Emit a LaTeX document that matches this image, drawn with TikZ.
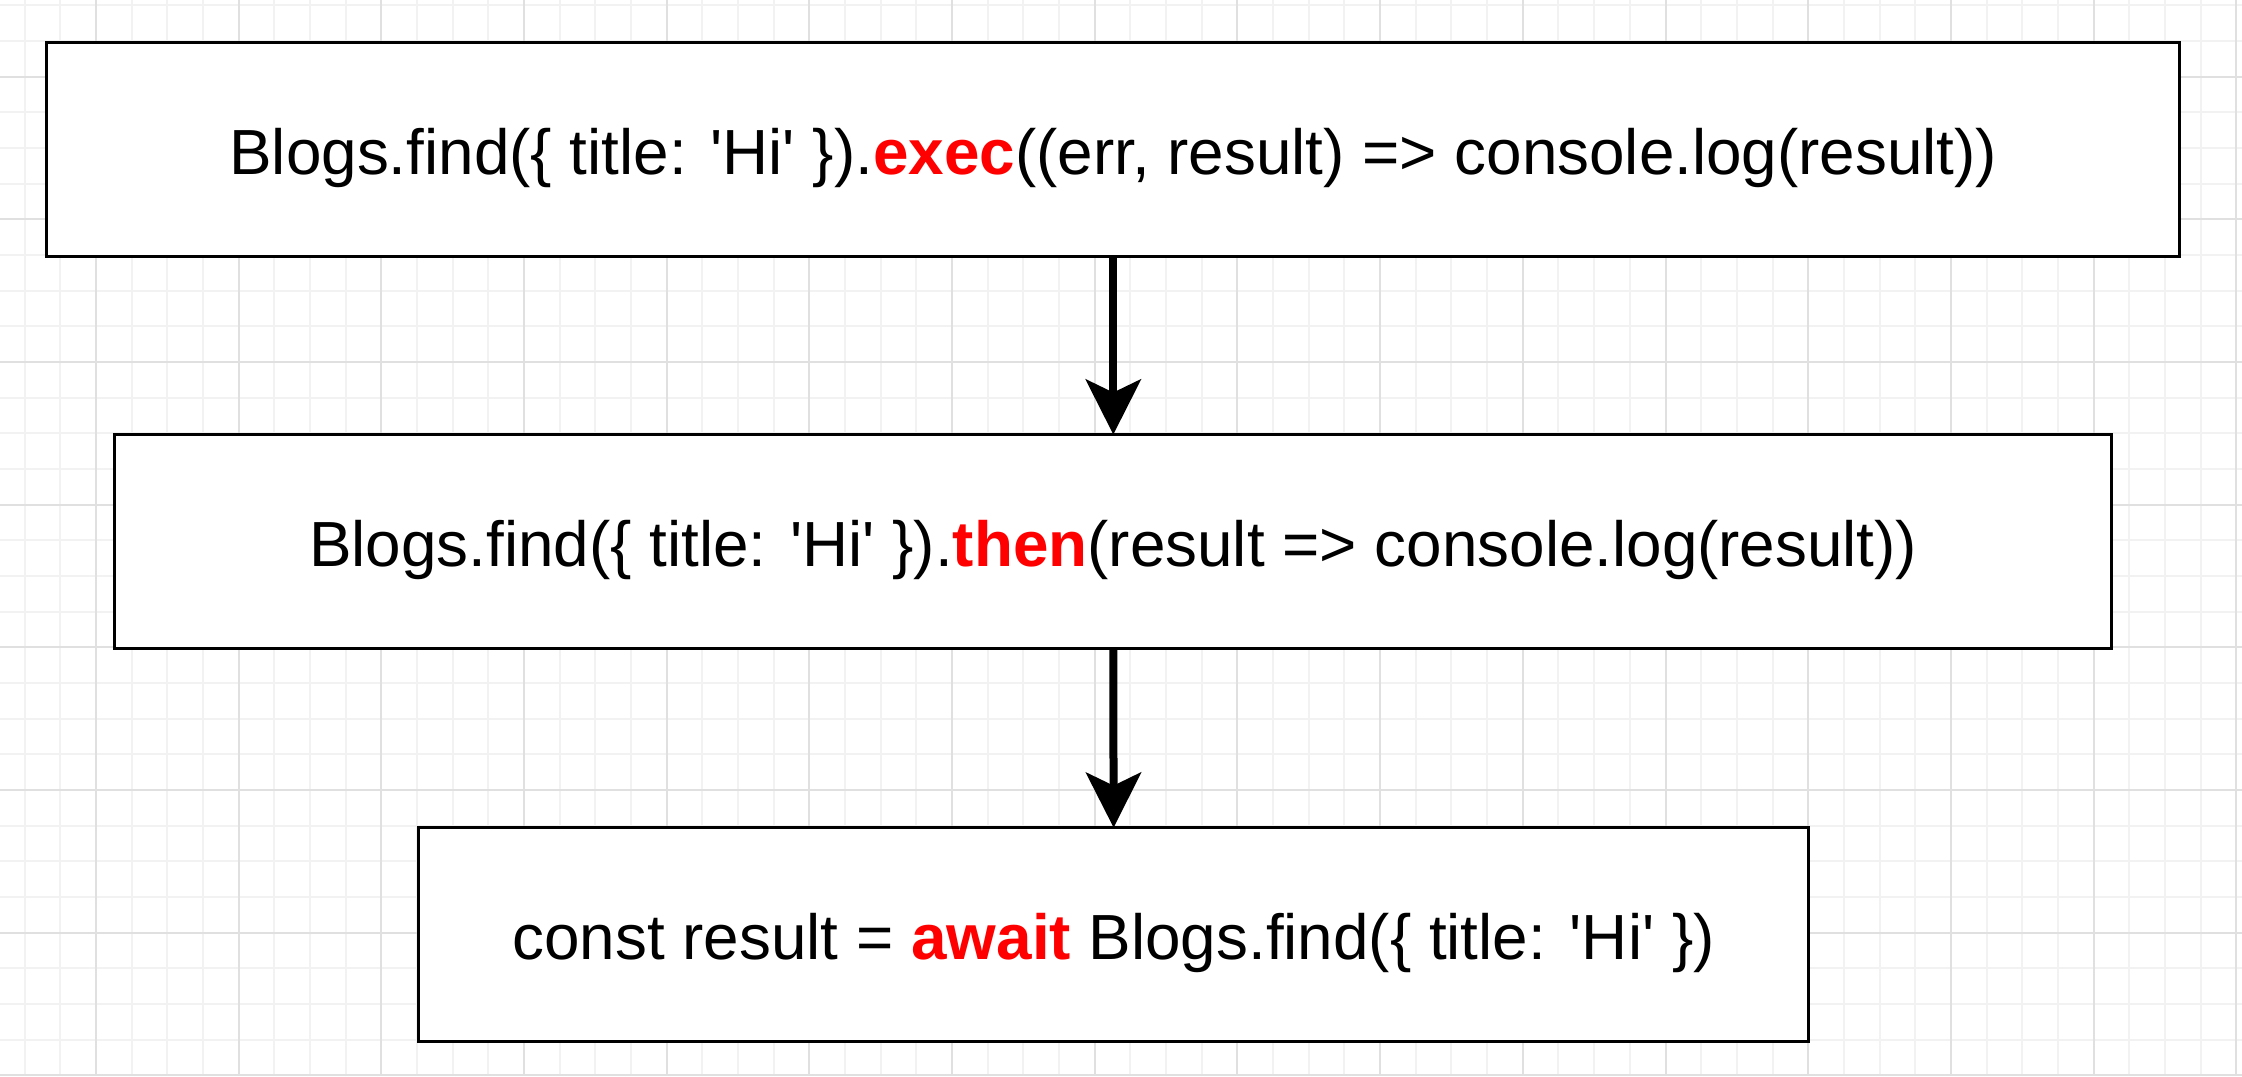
\documentclass[tikz,border=0pt]{standalone}
\usepackage{fontspec}
\setmainfont{Liberation Sans}[Ligatures=TeXOff]
\usetikzlibrary{arrows.meta}
\definecolor{gridminor}{HTML}{F2F2F2}
\definecolor{gridmajor}{HTML}{E0E0E0}
\definecolor{kw}{HTML}{FF0000}
\tikzset{
  codebox/.style={draw=black, fill=white, line width=3pt, rectangle, outer sep=0pt,
    inner sep=0pt, minimum height=214pt, text height=59pt, text depth=9pt,
    font=\fontsize{63.8}{76}\selectfont},
  flow/.style={draw=black, line width=8pt,
    -{Stealth[length=55pt, width=55pt, inset=13pt]}},
  gminor/.style={draw=gridminor, line width=2pt},
  gmajor/.style={draw=gridmajor, line width=2pt}
}
\newcommand{\kwd}[1]{\textcolor{kw}{\bfseries #1}}
\begin{document}
\begin{tikzpicture}[x=1pt, y=-1pt]
  \fill[white] (0,0) rectangle (2242,1076);
  \useasboundingbox (0,0) rectangle (2242,1076);
  % grid
  \foreach \k in {-2,...,60} {
    \pgfmathsetmacro\xx{96+35.67*\k}
    \draw[gminor] (\xx,0) -- (\xx,1076);
  }
  \foreach \k in {-2,...,28} {
    \pgfmathsetmacro\yy{76.7+35.67*\k}
    \draw[gminor] (0,\yy) -- (2242,\yy);
  }
  \foreach \k in {0,...,15} {
    \pgfmathsetmacro\xx{96+142.68*\k}
    \draw[gmajor] (\xx,0) -- (\xx,1076);
  }
  \foreach \k in {0,...,7} {
    \pgfmathsetmacro\yy{76.7+142.68*\k}
    \draw[gmajor] (0,\yy) -- (2242,\yy);
  }
  % boxes
  \node[codebox, minimum width=2133pt] (b1) at (1113.3,149.6)
    {Blogs.find(\{ title: 'Hi' \}).\kwd{exec}((err, result) => console.log(result))};
  \node[codebox, minimum width=1997pt] (b2) at (1113.3,541.5)
    {Blogs.find(\{ title: 'Hi' \}).\kwd{then}(result => console.log(result))};
  \node[codebox, minimum width=1390pt] (b3) at (1113.6,934.6)
    {const result = \kwd{await} Blogs.find(\{ title: 'Hi' \})};
  % connectors
  \draw[flow] (b1.south) -- (b2.north);
  \draw[flow] (b2.south) -- (b3.north);
\end{tikzpicture}
\end{document}
